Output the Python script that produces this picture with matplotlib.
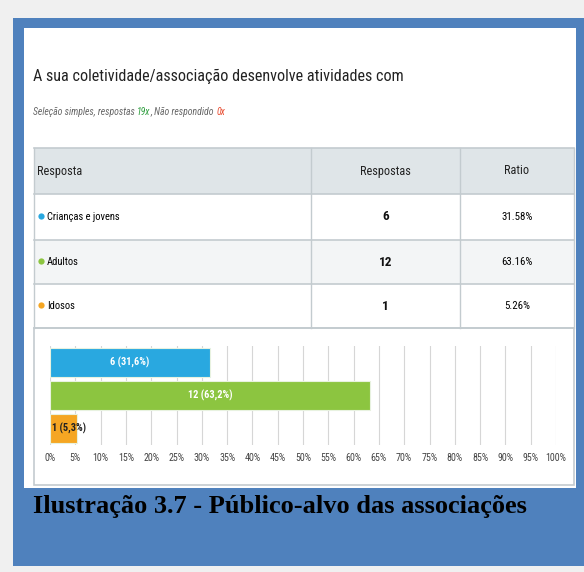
import matplotlib

matplotlib.use("Agg")
import matplotlib.pyplot as plt
from matplotlib import font_manager as fm
from matplotlib.patches import Rectangle

# survey answers
categories = ["Crianças e jovens", "Adultos", "Idosos"]
counts = [6, 12, 1]
ratios = [31.58, 63.16, 5.26]
colors = ["#29a8e0", "#8cc540", "#f5a623"]
xticks = list(range(0, 101, 5))

title = "A sua coletividade/associação desenvolve atividades com"
caption = "Ilustração 3.7 - Público-alvo das associações"

W, H = 584, 572

names = {f.name for f in fm.fontManager.ttflist}
narrow = next((n for n in ["Liberation Sans Narrow", "Roboto Condensed",
                           "Open Sans Condensed"] if n in names), None)
if narrow:
    NF = dict(family=narrow)
else:
    NF = dict(family="DejaVu Sans", stretch="condensed")

fig = plt.figure(figsize=(W / 100, H / 100), dpi=100, facecolor="#f0f0f0")
bg = fig.add_axes([0, 0, 1, 1])
bg.set_xlim(0, W)
bg.set_ylim(H, 0)
bg.axis("off")


def box(x0, y0, x1, y1, **kw):
    bg.add_patch(Rectangle((x0, y0), x1 - x0, y1 - y0, **kw))


# blue frame + white panel
box(13, 18, W, 566, color="#4f81bd", lw=0)
box(24, 28, 576, 488, color="white", lw=0)

bg.text(33, 76, title, fontsize=11.6, color="#222222", va="center", **NF)

# subtitle with coloured counts
parts = [("Seleção simples, respostas ", "#666666"), ("19x", "#2e9e3e"),
         (", Não respondido ", "#666666"), ("0x", "#e8482c")]
x = 33
fig.canvas.draw()
r = fig.canvas.get_renderer()
for s, c in parts:
    t = bg.text(x, 112, s, fontsize=7, color=c, style="italic", va="center", **NF)
    x += t.get_window_extent(renderer=r).width

# table
L, R = 34, 574
C1, C2 = 311, 460
rows = [148, 194, 240, 284, 328]
box(L, rows[0], R, rows[1], facecolor="#dfe5e8", edgecolor="none")
box(L, rows[2], R, rows[3], facecolor="#f3f5f6", edgecolor="none")
for y in rows:
    bg.plot([L, R], [y, y], color="#c3cbcf", lw=1.2)
for xx in (L, C1, C2, R):
    bg.plot([xx, xx], [rows[0], rows[-1]], color="#c3cbcf", lw=1.0)
box(L, rows[-1], R, 485, facecolor="none", edgecolor="#c3cbcf", lw=1.2)

hy = (rows[0] + rows[1]) / 2
bg.text(37, hy, "Resposta", fontsize=8.8, va="center", color="#222222", **NF)
bg.text((C1 + C2) / 2, hy, "Respostas", fontsize=8.8, ha="center", va="center",
        color="#222222", **NF)
bg.text((C2 + R) / 2, hy, "Ratio", fontsize=8.8, ha="center", va="center",
        color="#222222", **NF)
for i, (cat, n, pct, col) in enumerate(zip(categories, counts, ratios, colors)):
    cy = (rows[i + 1] + rows[i + 2]) / 2
    bg.plot(41, cy - 1, "o", ms=4.5, color=col, mew=0)
    bg.text(47, cy, cat, fontsize=7.6, va="center", color="black", **NF)
    bg.text((C1 + C2) / 2, cy, str(n), fontsize=9.5, ha="center", va="center",
            color="#111111", fontweight="bold", **NF)
    bg.text((C2 + R) / 2, cy, f"{pct:.2f}%", fontsize=7.8, ha="center",
            va="center", color="black", **NF)

# bar chart
ax = fig.add_axes([50 / W, 1 - 445 / H, 506 / W, 99 / H])
ax.set_facecolor("none")
ys = list(range(len(categories)))
ax.barh(ys, ratios, height=0.88, color=colors, edgecolor="#e8f2e0", lw=0.8,
        zorder=3)
ax.set_xlim(0, 100)
ax.set_ylim(len(categories) - 0.5, -0.5)
ax.set_xticks(xticks)
ax.set_xticklabels([f"{t}%" for t in xticks], fontsize=7.2, color="#444444", **NF)
ax.set_yticks([])
ax.tick_params(axis="x", length=0, pad=6)
ax.grid(axis="x", color="#d6d6d6", lw=0.8, zorder=0)
for s in ax.spines.values():
    s.set_visible(False)
for y, n, pct in zip(ys, counts, ratios):
    lab = f"{n} ({pct:.1f}%)".replace(".", ",")
    if pct > 15:
        ax.text(pct / 2, y, lab, ha="center", va="center", fontsize=7.5,
                color="white", fontweight="bold", zorder=4, **NF)
    else:
        ax.text(0.4, y, lab, ha="left", va="center", fontsize=7.5,
                color="#222222", fontweight="bold", zorder=4, **NF)

bg.text(33, 507, caption, fontsize=19, fontweight="bold", va="center",
        color="black", family="Liberation Serif")

fig.savefig("out.png", dpi=100, facecolor=fig.get_facecolor())
